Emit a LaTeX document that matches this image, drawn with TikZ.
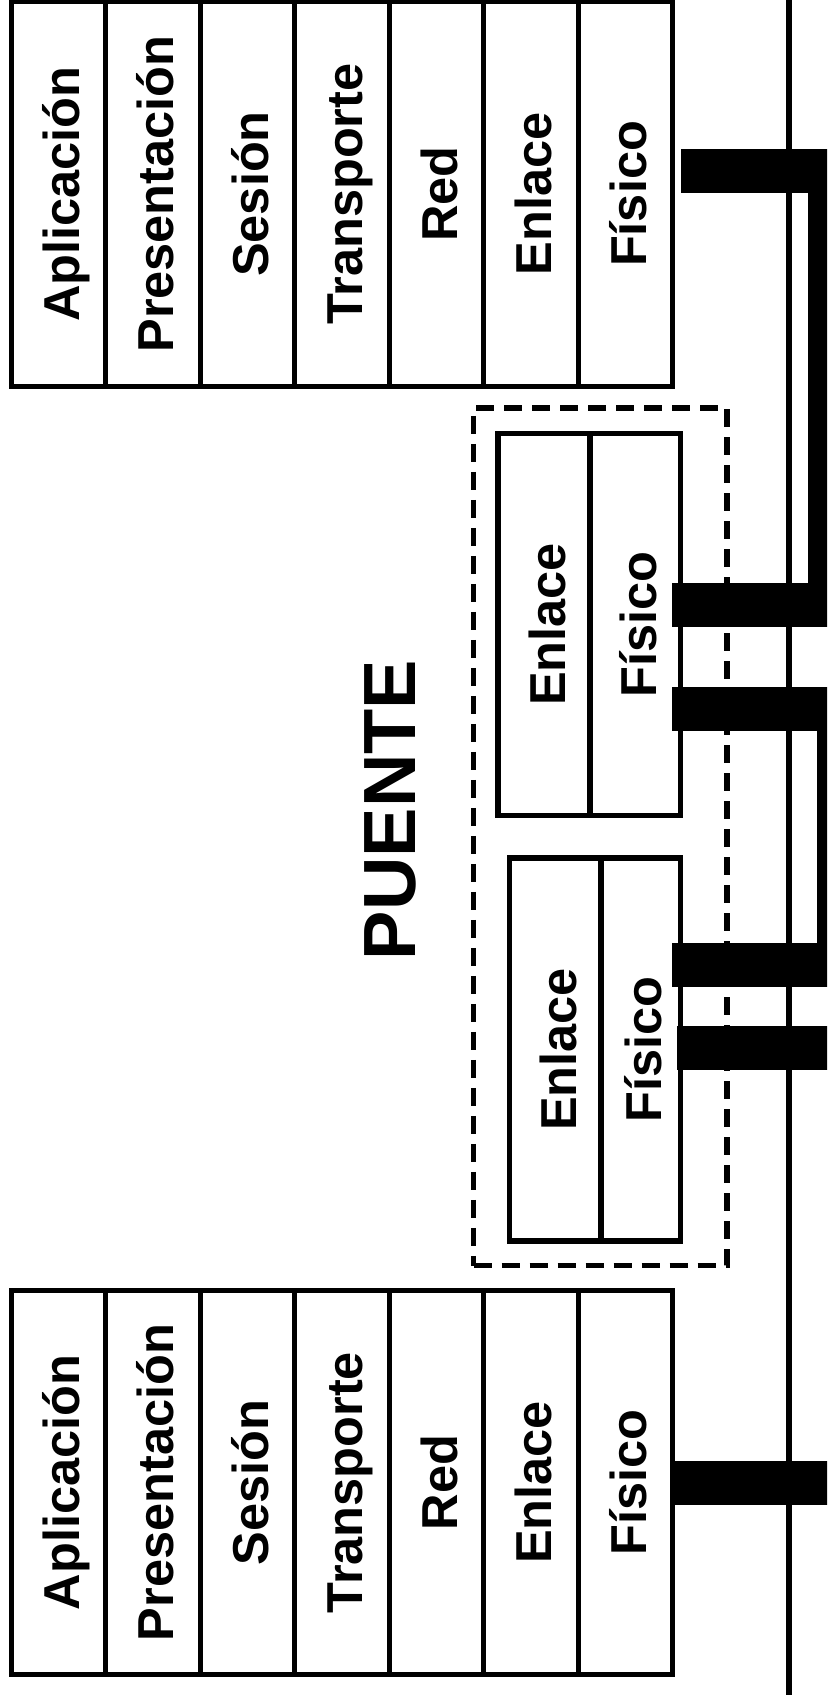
\documentclass[tikz,border=0pt]{standalone}
\usepackage{fontspec}
\setmainfont{Liberation Sans}

\begin{document}
\begin{tikzpicture}[x=1pt,y=-1pt,
  layer/.style={draw,line width=5pt,rotate=90,inner sep=0pt,minimum width=384pt,minimum height=94.5pt,text height=42pt,text depth=0pt,font=\fontsize{50.5}{60}\selectfont\bfseries},
  port/.style={layer,line width=5.5pt,minimum width=382pt},
  lan/.style={line width=44pt}]
\useasboundingbox (0,0) rectangle (827,1704);
\clip (0,0) rectangle (827,1704);
% bus
\coordinate (bus0) at (789,0);
\coordinate (bus1) at (789,1695);
\draw[line width=5.5pt] (bus0) -- (bus1);
% the two hosts
\foreach \n/\w/\x in {1/Aplicación/58.25,2/Presentación/152.75,3/Sesión/247.25,4/Transporte/341.75,5/Red/436.25,6/Enlace/530.75,7/Físico/625.25}{
  \node[layer] (top\n) at (\x,194) {\w};
  \node[layer] (bot\n) at (\x,1482.5) {\w};
}
% bridge
\node[draw,line width=5.5pt,dash pattern=on 18pt off 10pt,inner sep=0pt,minimum width=253.3pt,minimum height=857.5pt] (puente) at (600.35,836.75) {};
\node[port,minimum height=92pt] (pa1) at (544,624.5) {Enlace};
\node[port,minimum height=90.5pt] (pa2) at (635.25,624.5) {Físico};
\node[port,minimum width=383pt,minimum height=91.5pt] (pb1) at (555.25,1049.5) {Enlace};
\node[port,minimum width=383pt,minimum height=79.5pt] (pb2) at (640.75,1049.5) {Físico};
\node[rotate=90,font=\fontsize{74}{80}\selectfont\bfseries] (lbl) at (390,810) {PUENTE};
% segments (rotated nodes: south is the right side)
\coordinate (l1a) at (830,171);
\coordinate (l1b) at (830,604.5);
\coordinate (l2a) at (839,709);
\coordinate (l2b) at (839,964.5);
\coordinate (l3a) at (880,1048);
\coordinate (l3b) at (880,1483);
\draw[lan] ([xshift=6pt]top7.south |- l1a) -- (l1a) -- (l1b) -- ([xshift=-11pt]pa2.south |- l1b);
\draw[lan] ([xshift=-11pt]pa2.south |- l2a) -- (l2a) -- (l2b) -- ([xshift=-11pt]pb2.south |- l2b);
\draw[lan] ([xshift=-6pt]pb2.south |- l3a) -- (l3a) -- (l3b) -- ([xshift=-5pt]bot7.south |- l3b);
\end{tikzpicture}
\end{document}
